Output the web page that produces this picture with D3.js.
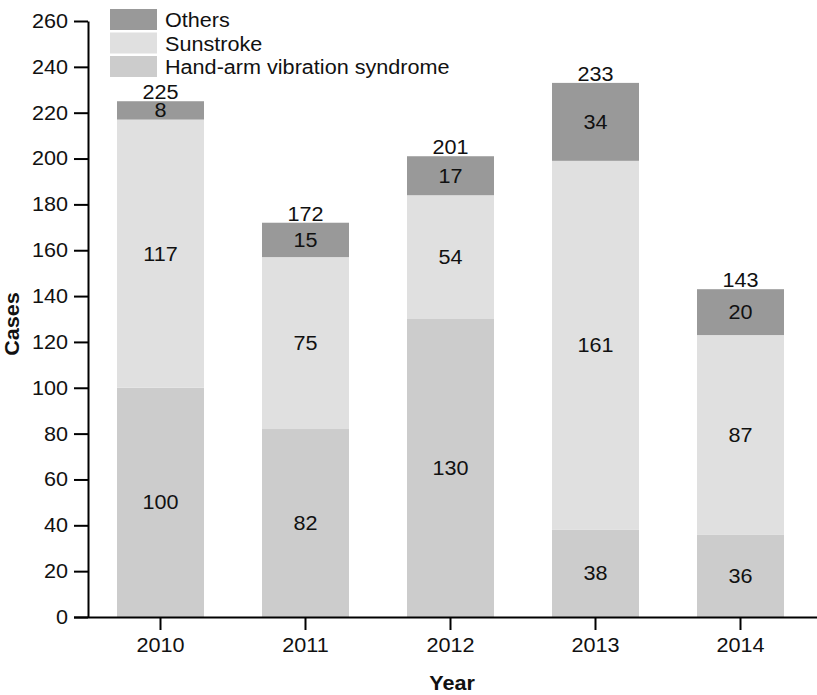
<!DOCTYPE html>
<html><head><meta charset="utf-8">
<script src="https://cdn.jsdelivr.net/npm/d3@7"></script>
<style>body{margin:0;background:#fff}svg{display:block;font-family:"Liberation Sans",Arial,sans-serif}</style>
</head><body>
<svg id="c" width="817" height="695"></svg>
<script>
const years = ["2010","2011","2012","2013","2014"];
const handArm = [100, 82, 130, 38, 36];
const sunstroke = [117, 75, 54, 161, 87];
const others = [8, 15, 17, 34, 20];
const seriesNames = ["Hand-arm vibration syndrome", "Sunstroke", "Others"];
const seriesColors = ["#cccccc", "#e0e0e0", "#999999"];
const yTicks = [0,20,40,60,80,100,120,140,160,180,200,220,240,260];

const FS = 20;
const svg = d3.select("#c");
const x = d3.scaleBand().domain(years).range([88, 813]).paddingInner(0.4).paddingOuter(0.2);
const y = d3.scaleLinear().domain([0, 260]).range([617, 21]);

const table = years.map((yr, i) => ({year: yr, h: handArm[i], s: sunstroke[i], o: others[i]}));
const keys = ["h", "s", "o"];
const stack = d3.stack().keys(keys)(table);

const g = svg.append("g");
stack.forEach((layer, li) => {
  g.selectAll(null).data(layer).enter().append("rect")
    .attr("x", d => x(d.data.year))
    .attr("width", x.bandwidth())
    .attr("y", d => y(d[1]))
    .attr("height", d => y(d[0]) - y(d[1]))
    .attr("fill", seriesColors[li]);
  g.selectAll(null).data(layer).enter().append("text")
    .attr("x", d => x(d.data.year) + x.bandwidth()/2)
    .attr("y", d => (y(d[0]) + y(d[1]))/2)
    .attr("dy", "0.35em")
    .attr("text-anchor", "middle")
    .attr("font-size", FS)
    .attr("fill", "#111")
    .text(d => d[1] - d[0]);
});
// totals
g.selectAll(null).data(table).enter().append("text")
  .attr("x", d => x(d.year) + x.bandwidth()/2)
  .attr("y", d => y(d.h + d.s + d.o) - 2)
  .attr("text-anchor", "middle")
  .attr("font-size", FS)
  .attr("fill", "#111")
  .text(d => d.h + d.s + d.o);

// axes
const yAxis = svg.append("g").attr("transform", "translate(88,0)")
  .call(d3.axisLeft(y).tickValues(yTicks).tickSize(14).tickSizeOuter(0).tickPadding(6));
yAxis.select(".domain").attr("stroke-width", 2);
yAxis.selectAll(".tick line").attr("stroke-width", 2);
yAxis.selectAll("text").attr("font-size", FS).attr("font-family", "Liberation Sans, Arial, sans-serif").attr("fill", "#111");

const xAxis = svg.append("g").attr("transform", "translate(0,617)")
  .call(d3.axisBottom(x).tickSize(13).tickSizeOuter(0).tickPadding(8));
xAxis.select(".domain").attr("d", "M74,0.5H817").attr("stroke-width", 2);
xAxis.selectAll(".tick line").attr("stroke-width", 2);
xAxis.selectAll("text").attr("font-size", FS).attr("font-family", "Liberation Sans, Arial, sans-serif").attr("fill", "#111");

svg.append("text").attr("x", 452).attr("y", 690).attr("text-anchor", "middle")
  .attr("font-size", FS).attr("font-weight", "bold").attr("fill", "#111").text("Year");
svg.append("text").attr("transform", "translate(19,324) rotate(-90)").attr("text-anchor", "middle")
  .attr("font-size", FS).attr("font-weight", "bold").attr("fill", "#111").text("Cases");

// legend
const legendOrder = [2, 1, 0];
const lg = svg.append("g");
legendOrder.forEach((si, i) => {
  lg.append("rect").attr("x", 110).attr("y", 9 + i*23.5).attr("width", 47).attr("height", 21).attr("fill", seriesColors[si]);
  lg.append("text").attr("x", 165).attr("y", 27 + i*23.5).attr("font-size", FS).attr("fill", "#111").text(seriesNames[si]);
});

// slight horizontal stretch to match the reference's wider glyphs
svg.selectAll("text").each(function() {
  const len = this.getComputedTextLength();
  if (len > 0) {
    this.setAttribute("textLength", (len * 1.08).toFixed(1));
    this.setAttribute("lengthAdjust", "spacingAndGlyphs");
  }
});
</script>
</body></html>
